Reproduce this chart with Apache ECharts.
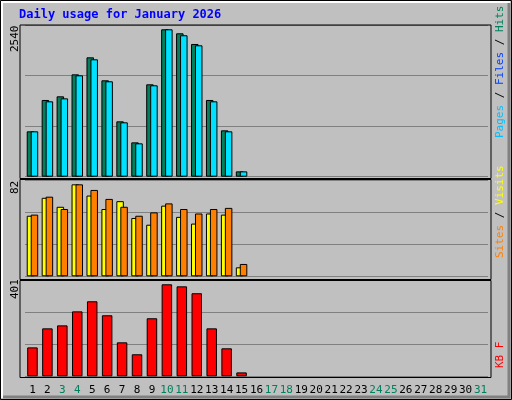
<!DOCTYPE html>
<html>
<head>
<meta charset="UTF-8">
<script src="https://cdnjs.cloudflare.com/ajax/libs/echarts/6.0.0/echarts.min.js"></script>
<style>
  body { margin: 0; background: #c0c0c0; }
  #chart { width: 512px; height: 400px; }
</style>
</head>
<body>
<div id="chart"></div>
<script>
  // days of the month
  const days = [];
  for (let i = 1; i <= 31; i++) days.push(String(i));
  const weekend = ['3', '4', '10', '11', '17', '18', '24', '25', '31'];

  // top panel
  const hits  = [782, 1322, 1385, 1764, 2057, 1661, 954, 592, 1592, 2540, 2471, 2287, 1322, 799, 92];
  const files = [782, 1299, 1350, 1747, 2023, 1644, 937, 575, 1575, 2540, 2437, 2264, 1299, 782, 92];
  // middle panel
  const visits = [54, 70, 62, 82, 72, 60, 67, 52, 46, 63, 53, 47, 56, 55, 8];
  const sites  = [55, 71, 60, 82, 77, 69, 62, 54, 57, 65, 60, 56, 60, 61, 11];
  // bottom panel
  const kbytes = [126, 209, 222, 283, 327, 266, 148, 96, 253, 401, 392, 362, 209, 122, 17];

  const chart = echarts.init(document.getElementById('chart'));
  const mono = 'DejaVu Sans Mono';

  const grids = [
    { top: 25, bottom: 400 - 176.7, max: 2614, interval: 2614 / 3 },
    { top: 180.3, bottom: 400 - 276.3, max: 85.6, interval: 85.6 / 3 },
    { top: 280.3, bottom: 400 - 376.3, max: 418.4, interval: 418.4 / 3 }
  ];

  const frame = (y1, y2) => ({
    type: 'rect', shape: { x: 20, y: y1, width: 471, height: y2 - y1 },
    style: { fill: null, stroke: '#000', lineWidth: 1 }, z: 100
  });

  const barStyle = c => ({ color: c, borderColor: '#000', borderWidth: 1 });

  const option = {
    backgroundColor: '#c0c0c0',
    animation: false,
    grid: grids.map(g => ({ left: 25, right: 24, top: g.top, bottom: g.bottom })),
    xAxis: grids.map((g, i) => ({
      type: 'category', gridIndex: i, data: days,
      axisLine: { show: false }, axisTick: { show: false },
      axisLabel: i === 2 ? {
        margin: 8, fontFamily: mono, fontSize: 11, interval: 0,
        color: v => weekend.includes(v) ? '#00805c' : '#000'
      } : { show: false }
    })),
    yAxis: grids.map((g, i) => ({
      type: 'value', gridIndex: i, min: 0, max: g.max, interval: g.interval,
      axisLabel: { show: false }, axisLine: { show: false }, axisTick: { show: false },
      splitLine: { lineStyle: { color: '#808080', width: 1 } }
    })),
    series: [
      { type: 'bar', xAxisIndex: 0, yAxisIndex: 0, data: hits, barWidth: 7.5, barGap: '-47%', itemStyle: barStyle('#00805c') },
      { type: 'bar', xAxisIndex: 0, yAxisIndex: 0, data: files, barWidth: 7.5, itemStyle: barStyle('#00e0ff') },
      { type: 'bar', xAxisIndex: 1, yAxisIndex: 1, data: visits, barWidth: 7.5, barGap: '-47%', itemStyle: barStyle('#ffff00') },
      { type: 'bar', xAxisIndex: 1, yAxisIndex: 1, data: sites, barWidth: 7.5, itemStyle: barStyle('#ff8000') },
      { type: 'bar', xAxisIndex: 2, yAxisIndex: 2, data: kbytes, barWidth: 10.5, itemStyle: barStyle('#ff0000') }
    ],
    graphic: [
      { type: 'rect', shape: { x: 0.5, y: 0.5, width: 511, height: 399 }, style: { fill: null, stroke: '#000' }, z: 90 },
      { type: 'polyline', shape: { points: [[2, 398], [2, 2], [510, 2]] }, style: { stroke: '#fff', lineWidth: 2 }, z: 90 },
      { type: 'polyline', shape: { points: [[3, 397], [509, 397], [509, 3]] }, style: { stroke: '#808080', lineWidth: 3 }, z: 90 },
      frame(25, 178.5), frame(179.5, 279.5), frame(280.5, 377.5),
      { type: 'text', left: 19, top: 9, style: { text: 'Daily usage for January 2026', fill: '#0000ff', font: 'bold 12px ' + mono }, z: 100 },
      { type: 'text', x: 10, y: 52, rotation: Math.PI / 2, style: { text: '2540', fill: '#000', font: '11px ' + mono }, z: 100 },
      { type: 'text', x: 10, y: 194, rotation: Math.PI / 2, style: { text: '82', fill: '#000', font: '11px ' + mono }, z: 100 },
      { type: 'text', x: 10, y: 299, rotation: Math.PI / 2, style: { text: '401', fill: '#000', font: '11px ' + mono }, z: 100 },
      { type: 'text', x: 495, y: 138, rotation: Math.PI / 2, style: {
          rich: {
            p: { fill: '#00c0ff', font: '11px ' + mono }, f: { fill: '#0040ff', font: '11px ' + mono },
            h: { fill: '#00805c', font: '11px ' + mono }, s: { fill: '#000', font: '11px ' + mono }
          },
          text: '{p|Pages}{s| / }{f|Files}{s| / }{h|Hits}'
        }, z: 100 },
      { type: 'text', x: 495, y: 258, rotation: Math.PI / 2, style: {
          rich: {
            o: { fill: '#ff8000', font: '11px ' + mono }, v: { fill: '#ffff00', font: '11px ' + mono },
            s: { fill: '#000', font: '11px ' + mono }
          },
          text: '{o|Sites}{s| / }{v|Visits}'
        }, z: 100 },
      { type: 'text', x: 495, y: 368, rotation: Math.PI / 2, style: { text: 'KB F', fill: '#ff0000', font: '11px ' + mono }, z: 100 }
    ]
  };

  chart.setOption(option);
</script>
</body>
</html>
